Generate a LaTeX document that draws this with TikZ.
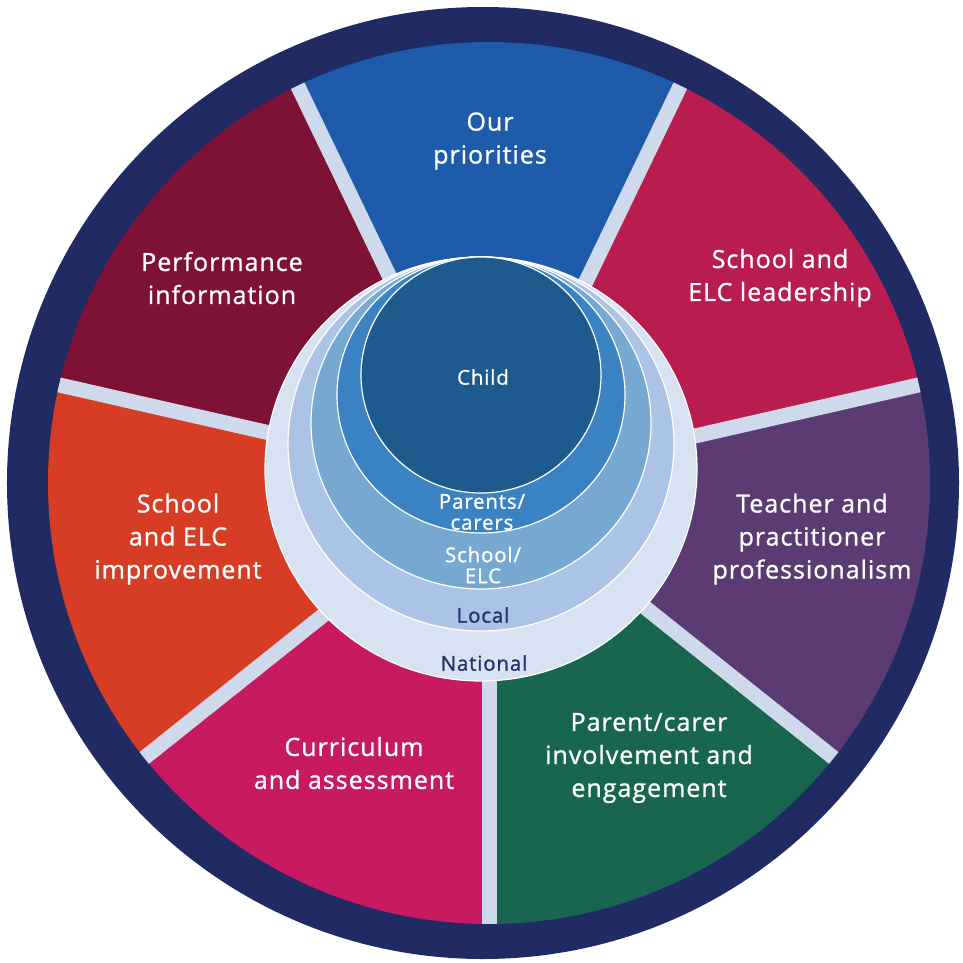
\documentclass[tikz,border=0pt]{standalone}
\usepackage{fontspec}
\setmainfont{Open Sans}[LetterSpace=4, FakeBold=1]
\definecolor{navyring}{HTML}{202A63}
\definecolor{sepgrey}{HTML}{CFD9EC}
\definecolor{secblue}{HTML}{1E5BAA}
\definecolor{seccrimson}{HTML}{B91C4F}
\definecolor{secpurple}{HTML}{5B3B72}
\definecolor{secgreen}{HTML}{18664F}
\definecolor{secmagenta}{HTML}{C81A61}
\definecolor{secorange}{HTML}{D63D24}
\definecolor{secmaroon}{HTML}{7E1136}
\definecolor{childfill}{HTML}{1D5B8E}
\definecolor{parentfill}{HTML}{3B82C2}
\definecolor{schoolfill}{HTML}{76A8D2}
\definecolor{localfill}{HTML}{ABC3E4}
\definecolor{nationalfill}{HTML}{D8E2F2}
\definecolor{ringtext}{HTML}{26306B}
\begin{document}
\begin{tikzpicture}[x=1pt,y=1pt,
    sectorlabel/.style={text=white, align=center, font=\fontsize{25}{33}\selectfont},
    ringlabel/.style={align=center, font=\fontsize{20.5}{21}\selectfont},
    sepline/.style={draw=sepgrey, line width=15pt},
    ringedge/.style={draw=white, line width=1.2pt}]
  \useasboundingbox (-489,-479) rectangle (474,483);
  \fill[navyring] (-6,0) circle (476pt);
  % seven equal sectors, first one centred at the top
  \foreach \a/\c in {90/secblue, 38.571/seccrimson, -12.857/secpurple, -64.286/secgreen,
      -115.714/secmagenta, -167.143/secorange, 141.429/secmaroon}
    \fill[\c] (0,0) -- (\a-25.714:441pt) arc[start angle=\a-25.714, end angle=\a+25.714, radius=441pt] -- cycle;
  \foreach \a in {115.714, 64.286, 12.857, -38.571, -90, -141.429, 167.143}
    \draw[sepline] (0,0) -- (\a:441pt);
  % nested circles
  \filldraw[fill=nationalfill, ringedge] (-8,14) ellipse [x radius=216pt, y radius=212pt];
  \filldraw[fill=localfill, ringedge] (-8,39) ellipse [x radius=193pt, y radius=187pt];
  \filldraw[fill=schoolfill, ringedge] (-8,60) ellipse [x radius=170pt, y radius=166pt];
  \filldraw[fill=parentfill, ringedge] (-8,88) ellipse [x radius=144pt, y radius=138pt];
  \filldraw[fill=childfill, ringedge] (-8,108) ellipse [x radius=120pt, y radius=118pt];
  % sector labels
  \node[sectorlabel] (priorities) at (1,342) {Our\\priorities};
  \node[sectorlabel] (leadership) at (291,205) {School and\\ELC leadership};
  \node[sectorlabel] (professionalism) at (323,-56) {Teacher and\\practitioner\\professionalism};
  \node[sectorlabel] (engagement) at (160,-275) {Parent/carer\\involvement and\\engagement};
  \node[sectorlabel] (curriculum) at (-135,-280) {Curriculum\\and assessment};
  \node[sectorlabel] (improvement) at (-311,-56) {School\\and ELC\\improvement};
  \node[sectorlabel] (performance) at (-267,205) {Performance\\information};
  % ring labels
  \node[ringlabel, text=white] (child) at (-6,106) {Child};
  \node[ringlabel, text=white] (parents) at (-7,-29) {Parents/\\carers};
  \node[ringlabel, text=white] (school) at (-6,-82) {School/\\ELC};
  \node[ringlabel, text=ringtext] (local) at (-6,-132) {Local};
  \node[ringlabel, text=ringtext] (national) at (-5,-180) {National};
\end{tikzpicture}
\end{document}
